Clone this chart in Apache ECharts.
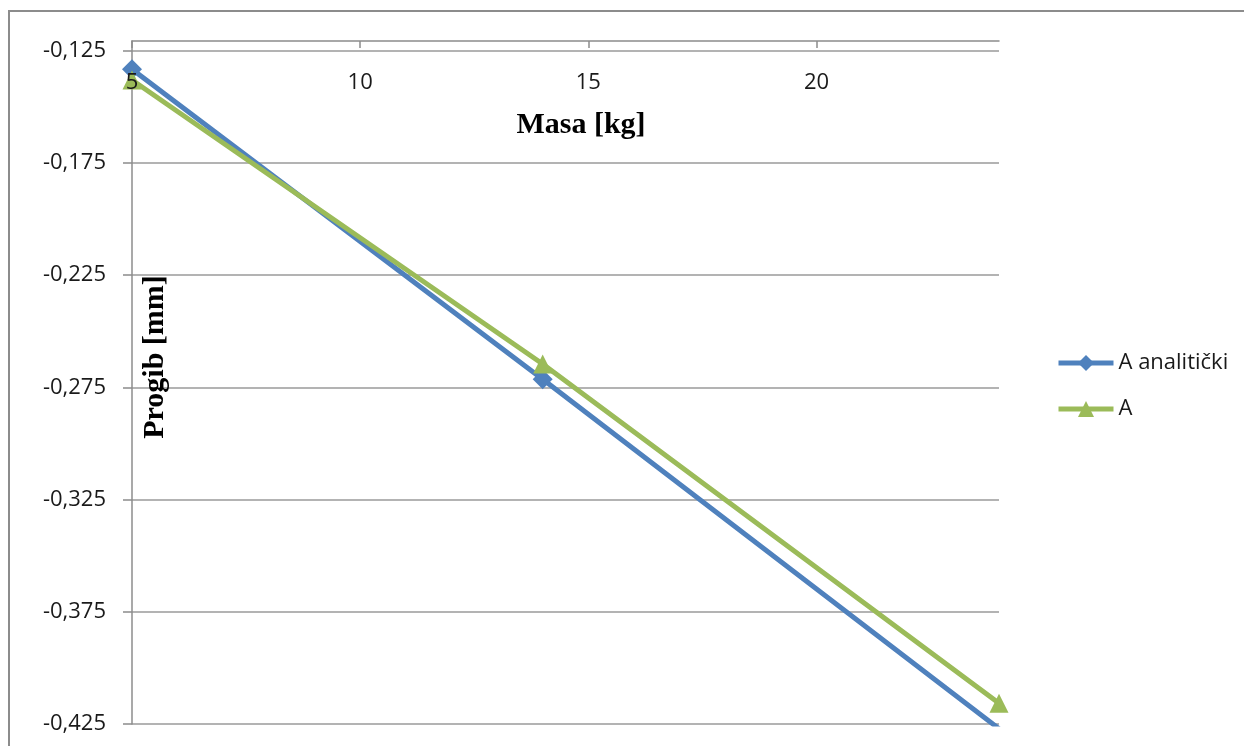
<!DOCTYPE html>
<html>
<head>
<meta charset="utf-8">
<script src="https://cdn.jsdelivr.net/npm/echarts@6/dist/echarts.min.js"></script>
<style>
html,body{margin:0;padding:0;background:#fff;}
#chart{width:1244px;height:746px;}
</style>
</head>
<body>
<div id="chart"></div>
<script>
var seriesNames = ['A analitički', 'A'];
var masa = [5, 14, 24];
var analiticki = [-0.1333, -0.2714, -0.4271];
var mjereno = [-0.1381, -0.2646, -0.4158];
var xTicks = [5, 10, 15, 20];
var yTicks = [-0.425, -0.375, -0.325, -0.275, -0.225, -0.175, -0.125];
var xTitle = 'Masa [kg]';
var yTitle = 'Progib [mm]';

function pairs(xs, ys) { return xs.map(function (x, i) { return [x, ys[i]]; }); }

var chart = echarts.init(document.getElementById('chart'), null, {renderer: 'canvas'});
var labelFont = {fontFamily: 'Open Sans', fontSize: 22, color: '#1a1a1a'};
chart.setOption({
  backgroundColor: '#ffffff',
  animation: false,
  grid: {left: 132, top: 41, right: 245, bottom: 22, containLabel: false},
  xAxis: {
    type: 'value', position: 'top', min: 5, max: 24, interval: 5, z: 5,
    axisLine: {show: true, onZero: false, lineStyle: {color: '#8c8c8c', width: 1.5}},
    axisTick: {show: true, inside: true, length: 7, customValues: xTicks, lineStyle: {color: '#8c8c8c', width: 1.5}},
    axisLabel: Object.assign({inside: true, margin: 31, showMinLabel: true, showMaxLabel: false, hideOverlap: false,
      formatter: function (v) { return xTicks.indexOf(v) >= 0 ? String(v) : ''; }}, labelFont),
    splitLine: {show: false}
  },
  yAxis: {
    type: 'value', min: -0.425, max: -0.1207,
    axisLine: {show: true, onZero: false, lineStyle: {color: '#8c8c8c', width: 1.5}},
    axisTick: {show: true, length: 9, customValues: yTicks, lineStyle: {color: '#8c8c8c', width: 1.5}},
    axisLabel: Object.assign({margin: 26, showMinLabel: true, customValues: yTicks, formatter: function (v) { return v.toFixed(3).replace('.', ','); }}, labelFont),
    splitLine: {show: true, lineStyle: {color: '#9a9a9a', width: 1.5}}
  },
  legend: {
    orient: 'vertical', left: 1051, top: 347, itemWidth: 55, itemHeight: 20, itemGap: 24,
    lineStyle: {width: 5},
    textStyle: {fontFamily: 'Open Sans', fontSize: 22, color: '#1a1a1a', lineHeight: 22},
    data: seriesNames
  },
  series: [
    {name: seriesNames[0], type: 'line', data: pairs(masa, analiticki), symbol: 'diamond', symbolSize: 20,
     itemStyle: {color: '#4F81BD'}, lineStyle: {color: '#4F81BD', width: 5}, clip: true},
    {name: seriesNames[1], type: 'line', data: pairs(masa, mjereno), symbol: 'triangle', symbolSize: 19,
     itemStyle: {color: '#9BBB59'}, lineStyle: {color: '#9BBB59', width: 5}, clip: true}
  ],
  graphic: [
    {type: 'rect', z: -10, silent: true, shape: {x: 9, y: 11, width: 1300, height: 800},
     style: {fill: 'none', stroke: '#8c8c8c', lineWidth: 2}},
    {type: 'text', z: 10, x: 581, y: 125, style: {text: xTitle, font: 'bold 30px "Liberation Serif"', fill: '#000', align: 'center', verticalAlign: 'middle'}},
    {type: 'text', z: 10, x: 155, y: 357, rotation: Math.PI / 2, style: {text: yTitle, font: 'bold 30px "Liberation Serif"', fill: '#000', align: 'center', verticalAlign: 'middle'}}
  ]
});
</script>
</body>
</html>
